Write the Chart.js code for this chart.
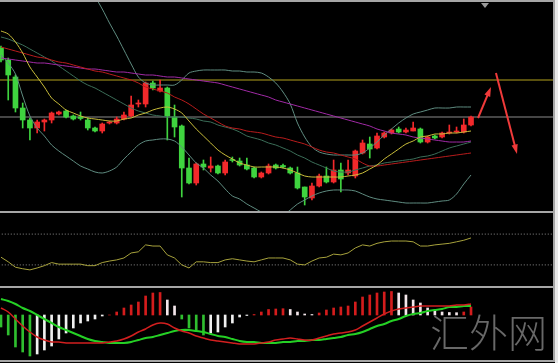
<!DOCTYPE html>
<html>
<head>
<meta charset="utf-8">
<script src="https://cdn.jsdelivr.net/npm/chart.js@4.4.1/dist/chart.umd.min.js"></script>
<style>
  html, body { margin: 0; padding: 0; background: #000; width: 558px; height: 363px; overflow: hidden; }
  #wrap { position: relative; width: 558px; height: 363px; background: #000; }
  canvas { position: absolute; left: 0; }
  .rule { position: absolute; background: #a6a6a6; z-index: 5; }
  #edge { position: absolute; left: 555px; top: 0; width: 3px; height: 363px; background: #e8e8e8; z-index: 6; }
  #marker { position: absolute; left: 481px; top: 3px; width: 0; height: 0; z-index: 6;
            border-left: 4px solid transparent; border-right: 4px solid transparent; border-top: 5px solid #9a9a9a; }
  #mark { position: absolute; left: 430px; top: 311px; font: 300 39px/39px "Noto Sans CJK SC", sans-serif;
          color: #686868; z-index: 4; white-space: nowrap; }
</style>
</head>
<body>
<div id="wrap">
  <canvas id="cMain" width="558" height="211" style="top:0"></canvas>
  <canvas id="cOsc" width="558" height="77" style="top:211px"></canvas>
  <canvas id="cMacd" width="558" height="74" style="top:287px"></canvas>
  <div class="rule" style="left:0;top:0;width:555px;height:2px"></div>
  <div class="rule" style="left:0;top:211px;width:555px;height:2px"></div>
  <div class="rule" style="left:0;top:286px;width:555px;height:2px"></div>
  <div class="rule" style="left:0;top:360px;width:555px;height:2px"></div>
  <div class="rule" style="left:553px;top:0;width:2px;height:362px"></div>
  <div id="edge"></div>
  <div id="marker"></div>
  <div id="mark">汇外网</div>
</div>
<script>
/* ---------- candles (price units, 66 bars) ---------- */
const open  = [163,151,134,103,91,83,89,91,97,100,95,94,91,83,80,88,88,92,95,107,107,128,120,123,94,85,43,28,47,43,45,38,51.5,50,46,43,34,38,46,45.5,43,38,24,13,25,35,29,41,38,35,58,67,63,74,78,82,79,80,82,69,75,74,78,79,79,86];
const close = [151,136,103,91,83,89,91,98,99,94,92,92.5,83,80,87,89,92,96,106,108,128,123,123,95,84,43,28,47,44,45,38,49,50.5,46,42,34,38,45,43,44,38,23,14,25,35,29,41,32,41,60,68,62,75,78,81,79,81,83,69,74,73,78,79,80,86,94];
const high  = [165,153,136,108,93,91,92,99,100,101,96,99,93,84,88,90,94,99,115,111,129,130,131,124,106,86,53,48,51,54,46,51,54,53,53,44,39,47,47,47,44,44,24,28,37,44,51,48,51,61,71,74,78,79,82,84,83,89,83,75,76,79,86,84,92,95];
const low   = [149,111,99,83,71,78,80,88,96,93,91,91,81,79,78,87,87,91,94,104,104,121,119,71,74,14,27,26,41,39,37,36,49,45,41,33,33,37,42,43,37,22,6,11,24,28,28,19,36,33,57,53,62,73,77,78,78,80,68,68,72,73,77,78,78,85];

/* ---------- overlays on the price panel ---------- */
const maFast  = [180,177,169,158,144,134,124,113,107,101,98,95,93,92,91,90,90,92,93,96,98,101,103,104,102,98,90,82,75,68,61,56,52,48,46,44,44,44,44,43,41,38,35,34,34,34,34,34,35,36,38,42,46,52,57,62,67,70,74,75,77,77,78,78,79,80];
const maMid   = [164,162,160,158,156,154,153,151,149,148,146,144,142,140,139,137,135,133,131,128,124,122,120,118,114,111,107,102,97,93,89,85,83,82,80,79,78,76,74,73,71,69,67,64,61,59,58,56,54,52,48,45,45,46,47,48,49,50,51,52,53,54,55,56,57,58];
const maSlow  = [153,152,151,150,149,148,148,147,146,145,144,143,142,142,141,140,139,139,138,137,136,136,135,134,134,133,132,131,130,129,128,126,124,122,120,118,116,114,111,109,107,105,103,101,99,97,95,93,91,89,87,85,82,80,78,77,76,74,73,72,71,70,69,69,69,70];
const bbUpper = [241,243,244,245,246,246,246,245,243,240,236,230,222,214,202,188,175,161,147,134,128,126,126,126,126,131,138,140,141,141,141,141,140,140,139,139,138,134,128,119,107,88,74,64,59,57,56,56,56,56,58,63,69,76,82,88,93,97,99,101,103,103,103,104,104,104];
const bbMid   = [174,172,169,166,162,158,154,150,145,140,135,130,126,123,119,115,111,107,103,100,98,96,95,94,94,94,93,92,90,89,86,84,82,79,75,73,71,68,66,63,60,56,53,49,46,43,40,39,39,41,43,45,46,48,49,50,51,52,54,55,57,60,63,65,67,69];
const bbLower = [156,148,137,115,95,83,75,66,60,55,50,45,42,39,38,40,44,52,59,66,70,71,72,72,70,64,56,48,43,36,30,22,15,12,7,3,-1,-4,-6,-4,1,7,11,15,18,20,21,21,21,20,17,14,12,11,10,9,8,8,8,8,9,10,11,17,27,36];
const levels  = [131, 94];               // yellow and grey reference levels
const arrows  = [[65.97, 93, 67.76, 124], [68.45, 138, 71.36, 57]];   // [fromBar, fromPrice, toBar, toPrice]

/* ---------- oscillator (0-100) ---------- */
const osc = [40,34,27,25,23.5,26,29,33,31,31,31,31,29,29,33,35,36.5,39,45.5,47,56,54.5,54.5,43,39,30,26,34,34,33,33,36.5,38,36.5,35,34,36.5,39,39,39,36.5,31,30,35,39,40,44,43,45.5,52,56,54.5,58,60,61,61,61,60,54.5,54.5,56,57,58,60,62,65];
const oscLevels = [70, 30];

/* ---------- MACD ---------- */
const hist = [-12,-20,-32,-37,-41,-39,-35,-31,-24,-18,-13,-8,-6,-4,-1,0,3,7,10,13,19,22,22.5,15,9,-4,-13,-15,-20,-18,-17,-12,-8,-2,-0.5,0.5,3,5.5,6,6.3,5.5,3,1,0.5,2,5,7,8,9,13,18,20,22,23,23.5,22,20,15,12,7,5,3,2.5,2.3,3,8];
const dif  = [7,3,-4,-11,-17,-22,-25,-27,-27,-28,-28,-28,-28,-28,-28,-27,-26,-24,-21,-17,-14,-10,-8,-9,-13,-16,-18,-21,-23,-25,-26,-27,-28,-29,-29,-29,-28,-27,-25,-24,-23,-24,-25,-25,-23,-21,-19,-18,-17,-15,-11,-7,-3,1,4,6,7,8,9,9,9,9,9,10,10,11];
const dea  = [16,14,11,7,4,0,-4,-8,-12,-15,-18,-21,-24,-26,-27,-28,-28,-28,-27,-25,-23,-22,-20,-18,-16,-15,-15,-16,-17,-19,-21,-22,-24,-26,-27,-27,-28,-28,-28,-27,-27,-26,-26,-25,-25,-24,-23,-22,-20,-19,-17,-14,-11,-9,-6,-4,-1,1,2,4,5,6,8,8,9,9];

const bars = open.map((_, i) => i);
const X_MIN = -0.138, X_MAX = 77.03;

const UP = '#f2292b', DOWN = '#3fd43f';
const candleColor = bars.map(i => close[i] >= open[i] ? UP : DOWN);
const histColor = hist.map((v, i) => {
  const prev = i ? hist[i - 1] : 0;
  if (v >= 0) return v >= prev ? '#d41c1c' : '#f3e6ea';
  return v <= prev ? '#2fbf2f' : '#f0f0f0';
});

const xy = arr => arr.map((v, i) => ({ x: i, y: v }));
const flat = v => [{ x: X_MIN - 1, y: v }, { x: X_MAX + 1, y: v }];
const line = (data, color, width, order, extra) => Object.assign({
  type: 'line', data: xy(data), borderColor: color, borderWidth: width,
  pointRadius: 0, tension: 0.3, fill: false, order
}, extra || {});

function opts(yMin, yMax) {
  return {
    responsive: false, animation: false, devicePixelRatio: 1,
    layout: { padding: 0 },
    plugins: { legend: { display: false }, tooltip: { enabled: false } },
    scales: {
      x: { type: 'linear', min: X_MIN, max: X_MAX, display: false, offset: false },
      y: { min: yMin, max: yMax, display: false }
    }
  };
}

const arrowPlugin = {
  id: 'arrows',
  afterDatasetsDraw(chart) {
    const { ctx, scales: { x, y } } = chart;
    ctx.save();
    ctx.strokeStyle = '#f03a3a';
    ctx.fillStyle = '#f03a3a';
    ctx.lineWidth = 2;
    arrows.forEach(a => {
      const x0 = x.getPixelForValue(a[0]), y0 = y.getPixelForValue(a[1]);
      const x1 = x.getPixelForValue(a[2]), y1 = y.getPixelForValue(a[3]);
      const ang = Math.atan2(y1 - y0, x1 - x0), head = 10;
      ctx.beginPath();
      ctx.moveTo(x0, y0);
      ctx.lineTo(x1 - Math.cos(ang) * head * 0.7, y1 - Math.sin(ang) * head * 0.7);
      ctx.stroke();
      ctx.beginPath();
      ctx.moveTo(x1, y1);
      ctx.lineTo(x1 - head * Math.cos(ang - 0.32), y1 - head * Math.sin(ang - 0.32));
      ctx.lineTo(x1 - head * Math.cos(ang + 0.32), y1 - head * Math.sin(ang + 0.32));
      ctx.closePath();
      ctx.fill();
    });
    ctx.restore();
  }
};

/* ---- price panel ---- */
new Chart(document.getElementById('cMain'), {
  type: 'bar',
  data: {
    datasets: [
      line(maFast, '#c9bd3a', 1, 0),
      line(maMid, '#b81c1c', 1, 0),
      line(maSlow, '#a12aa6', 1, 0),
      line(bbUpper, '#5f8c80', 1, 0),
      line(bbMid, '#3b6e58', 1, 0),
      line(bbLower, '#5f8c80', 1, 0),
      { type: 'bar', data: bars.map(i => ({ x: i, y: [open[i], close[i]] })),
        backgroundColor: candleColor, barThickness: 5, grouped: false, order: 1 },
      { type: 'bar', data: bars.map(i => ({ x: i, y: [low[i], high[i]] })),
        backgroundColor: candleColor, barThickness: 1, grouped: false, order: 2 },
      { type: 'line', data: flat(levels[0]), borderColor: '#b3a21c', borderWidth: 1, pointRadius: 0, order: 3 },
      { type: 'line', data: flat(levels[1]), borderColor: '#8a8a8a', borderWidth: 1, pointRadius: 0, order: 3 }
    ]
  },
  options: opts(0, 211),
  plugins: [arrowPlugin]
});

/* ---- oscillator panel ---- */
new Chart(document.getElementById('cOsc'), {
  type: 'line',
  data: {
    datasets: [
      line(osc, '#a7a23c', 1, 0, { tension: 0 }),
      { data: flat(oscLevels[0]), borderColor: '#8c8c8c', borderWidth: 1, borderDash: [1, 2], pointRadius: 0, order: 1 },
      { data: flat(oscLevels[1]), borderColor: '#8c8c8c', borderWidth: 1, borderDash: [1, 2], pointRadius: 0, order: 1 }
    ]
  },
  options: opts(0, 100)
});

/* ---- MACD panel ---- */
new Chart(document.getElementById('cMacd'), {
  type: 'bar',
  data: {
    datasets: [
      line(dif, '#d21f1f', 1.5, 0),
      line(dea, '#25d025', 2, 0),
      { type: 'bar', data: xy(hist), backgroundColor: histColor, barThickness: 2, grouped: false, order: 1 }
    ]
  },
  options: opts(-46, 28)
});
</script>
</body>
</html>
